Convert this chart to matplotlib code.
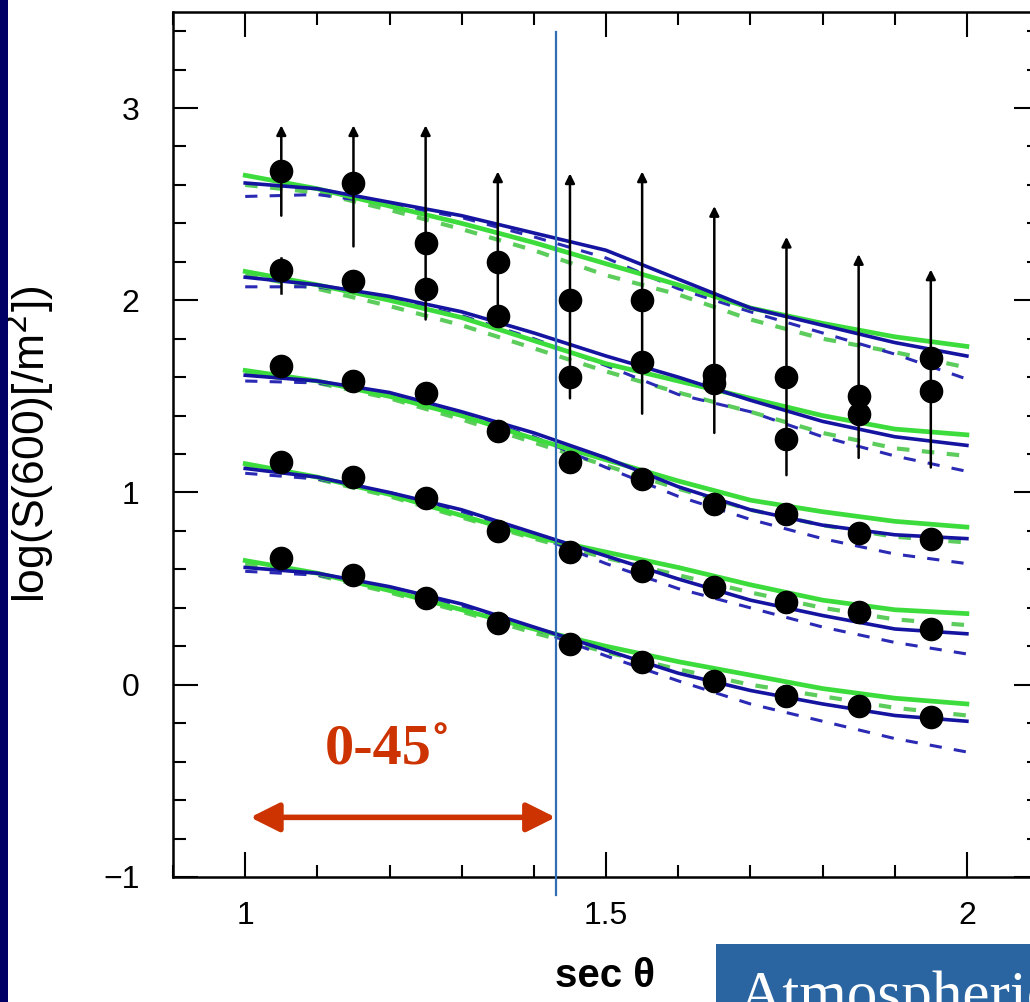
import matplotlib
matplotlib.use("Agg")
import matplotlib.pyplot as plt
from matplotlib.patches import Rectangle
from matplotlib.ticker import MultipleLocator

# sec(theta) bin centres of the measured points
sec_pts = [1.05, 1.15, 1.25, 1.35, 1.45, 1.55, 1.65, 1.75, 1.85, 1.95]

# measured log S(600) for the five bands (top to bottom)
band1_pts = [2.67, 2.61, 2.30, 2.20, 2.00, 2.00, 1.61, 1.60, 1.50, 1.70]
band2_pts = [2.16, 2.10, 2.06, 1.92, 1.60, 1.68, 1.57, 1.28, 1.41, 1.53]
band3_pts = [1.66, 1.58, 1.52, 1.32, 1.16, 1.07, 0.94, 0.89, 0.79, 0.76]
band4_pts = [1.16, 1.08, 0.97, 0.80, 0.69, 0.59, 0.51, 0.43, 0.38, 0.29]
band5_pts = [0.66, 0.57, 0.45, 0.32, 0.21, 0.12, 0.02, -0.06, -0.11, -0.17]

# lower-limit bars (line from lo up to arrow at hi)
arrow_lo = [2.44, 2.28, 1.90, 1.88, 1.49, 1.41, 1.31, 1.09, 1.18, 1.13]
arrow_hi = [2.91, 2.91, 2.91, 2.67, 2.66, 2.67, 2.49, 2.33, 2.24, 2.16]

# simulated curves on a common grid
sec_grid = [1.0, 1.1, 1.2, 1.3, 1.4, 1.5, 1.6, 1.7, 1.8, 1.9, 2.0]

band1_blue = [2.61, 2.58, 2.51, 2.44, 2.35, 2.26, 2.11, 1.96, 1.87, 1.78, 1.71]
band1_green = [2.65, 2.58, 2.49, 2.40, 2.30, 2.19, 2.08, 1.96, 1.88, 1.81, 1.76]
band1_blue_d = [2.54, 2.55, 2.50, 2.43, 2.33, 2.22, 2.06, 1.94, 1.83, 1.72, 1.59]
band1_green_d = [2.60, 2.56, 2.47, 2.37, 2.26, 2.13, 2.03, 1.90, 1.80, 1.73, 1.65]

band2_blue = [2.12, 2.08, 2.02, 1.94, 1.83, 1.71, 1.60, 1.48, 1.37, 1.29, 1.245]
band2_green = [2.15, 2.08, 2.00, 1.91, 1.79, 1.67, 1.58, 1.49, 1.40, 1.33, 1.30]
band2_blue_d = [2.07, 2.07, 2.01, 1.92, 1.80, 1.66, 1.51, 1.42, 1.29, 1.19, 1.11]
band2_green_d = [2.13, 2.06, 1.97, 1.87, 1.75, 1.63, 1.52, 1.42, 1.31, 1.23, 1.19]

band3_blue = [1.61, 1.58, 1.52, 1.42, 1.31, 1.18, 1.03, 0.91, 0.83, 0.78, 0.76]
band3_green = [1.635, 1.58, 1.50, 1.40, 1.28, 1.17, 1.06, 0.96, 0.90, 0.85, 0.82]
band3_blue_d = [1.58, 1.57, 1.51, 1.41, 1.29, 1.13, 0.98, 0.86, 0.76, 0.68, 0.63]
band3_green_d = [1.62, 1.57, 1.49, 1.38, 1.26, 1.14, 1.02, 0.91, 0.83, 0.77, 0.74]

band4_blue = [1.125, 1.08, 1.00, 0.91, 0.79, 0.67, 0.55, 0.44, 0.36, 0.29, 0.265]
band4_green = [1.15, 1.08, 0.99, 0.88, 0.77, 0.69, 0.61, 0.52, 0.44, 0.39, 0.37]
band4_blue_d = [1.10, 1.07, 1.00, 0.90, 0.78, 0.63, 0.50, 0.40, 0.30, 0.22, 0.16]
band4_green_d = [1.14, 1.07, 0.98, 0.87, 0.76, 0.66, 0.57, 0.48, 0.40, 0.34, 0.31]

band5_blue = [0.61, 0.58, 0.51, 0.42, 0.30, 0.18, 0.06, -0.03, -0.10, -0.16, -0.19]
band5_green = [0.646, 0.58, 0.49, 0.39, 0.29, 0.20, 0.12, 0.05, -0.02, -0.07, -0.10]
band5_blue_d = [0.59, 0.57, 0.50, 0.41, 0.29, 0.15, 0.02, -0.10, -0.19, -0.28, -0.35]
band5_green_d = [0.63, 0.57, 0.48, 0.38, 0.27, 0.17, 0.08, 0.00, -0.06, -0.12, -0.16]

zen_limit = 1.43  # marker line near sec(45 deg)

BLUE = "#1414a0"
GREEN = "#3ddc3d"
BLUE_D = "#2a2ab4"
GREEN_D = "#5ccc5c"

fig = plt.figure(figsize=(10.30, 10.02), dpi=100)
fig.patch.set_facecolor("white")

# dark slide border on the left
fig.add_artist(Rectangle((0, 0), 0.008, 1, transform=fig.transFigure,
                         facecolor="#000066", edgecolor="none"))

ax = fig.add_axes([0.168, 0.1248, 0.8408, 0.8633])

curves = [
    (band1_blue, band1_green, band1_blue_d, band1_green_d),
    (band2_blue, band2_green, band2_blue_d, band2_green_d),
    (band3_blue, band3_green, band3_blue_d, band3_green_d),
    (band4_blue, band4_green, band4_blue_d, band4_green_d),
    (band5_blue, band5_green, band5_blue_d, band5_green_d),
]
for b, g, bd, gd in curves:
    ax.plot(sec_grid, gd, color=GREEN_D, lw=3.0, ls=(0, (3, 3)), zorder=2)
    ax.plot(sec_grid, bd, color=BLUE_D, lw=2.2, ls=(0, (4, 4)), zorder=2)
    ax.plot(sec_grid, g, color=GREEN, lw=3.4, zorder=3)
    ax.plot(sec_grid, b, color=BLUE, lw=2.6, zorder=3)

# lower-limit arrows
for x, lo, hi in zip(sec_pts, arrow_lo, arrow_hi):
    ax.annotate("", xy=(x, hi), xytext=(x, lo),
                arrowprops=dict(arrowstyle="-|>", lw=1.8, color="black",
                                mutation_scale=14, shrinkA=0, shrinkB=0),
                zorder=4)
ax.plot([sec_pts[0], sec_pts[0]], [2.04, 2.22], color="black", lw=1.8, zorder=4)

for pts in [band1_pts, band2_pts, band3_pts, band4_pts, band5_pts]:
    ax.plot(sec_pts, pts, "o", color="black", ms=16, zorder=5)

ax.set_xlim(0.9, 2.1)
ax.set_ylim(-1, 3.5)
ax.xaxis.set_minor_locator(MultipleLocator(0.1))
ax.yaxis.set_minor_locator(MultipleLocator(0.2))
ax.set_xticks([1, 1.5, 2])
ax.set_xticklabels(["1", "1.5", "2"])
ax.set_yticks([-1, 0, 1, 2, 3])
ax.set_yticklabels(["\u22121", "0", "1", "2", "3"])
ax.tick_params(which="both", direction="in", top=True, right=True, width=1.5,
               labelsize=23)
ax.tick_params(which="major", length=18)
ax.tick_params(axis="x", which="major", pad=17)
ax.tick_params(axis="y", which="major", pad=24)
ax.tick_params(which="minor", length=9)
for lab in ax.get_xticklabels() + ax.get_yticklabels():
    lab.set_fontfamily("Liberation Sans")
for sp in ax.spines.values():
    sp.set_linewidth(1.8)

ax.set_ylabel("log(S(600)[/m$^2$])", fontsize=32, family="Liberation Sans")
ax.set_xlabel("sec \u03b8", fontsize=29, fontweight="bold",
              family="Liberation Sans")
ax.xaxis.set_label_coords((605 - 173) / 866, -0.092)
ax.yaxis.set_label_coords((56 - 173) / 866, 0.5)

# sec(45 deg) marker line, running below the axis
ax.plot([zen_limit, zen_limit], [-1.094, 3.396], color="#2f6db5", lw=1.6,
        clip_on=False, zorder=6)

# red double arrow with angle label
ax.annotate("", xy=(1.007, -0.69), xytext=(zen_limit, -0.69),
            arrowprops=dict(arrowstyle="<|-|>", lw=4, color="#cc3300",
                            mutation_scale=44, shrinkA=0, shrinkB=0))
ax.text(1.198, -0.34, "0-45\u02da", color="#cc3300", fontsize=42,
        fontweight="bold", family="Liberation Serif", ha="center", va="center")

# slide caption box, cut by the right edge
fig.add_artist(Rectangle((716 / 1030, 0), 1, 58 / 1002, transform=fig.transFigure,
                         facecolor="#2a65a1", edgecolor="none"))
fig.text(738 / 1030, -11 / 1002, "Atmospheric", color="white", fontsize=44,
         family="Liberation Serif", ha="left", va="baseline")

fig.savefig("out.png", dpi=100)
